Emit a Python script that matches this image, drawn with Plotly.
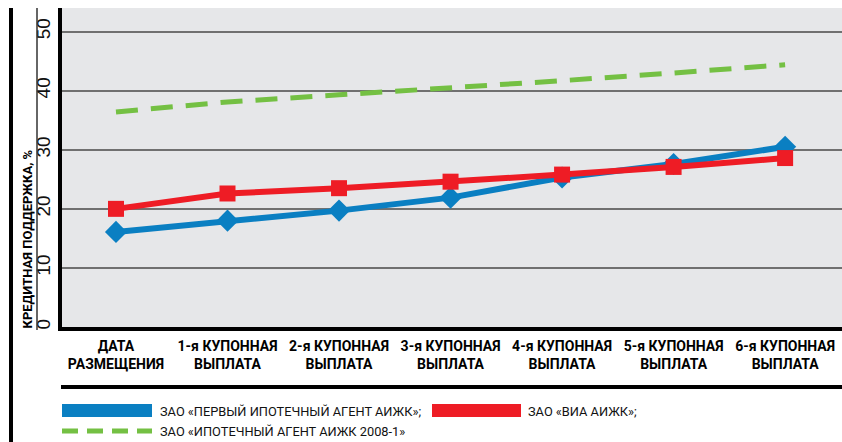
import plotly.graph_objects as go

categories = ["ДАТА<br>РАЗМЕЩЕНИЯ", "1-я КУПОННАЯ<br>ВЫПЛАТА", "2-я КУПОННАЯ<br>ВЫПЛАТА",
              "3-я КУПОННАЯ<br>ВЫПЛАТА", "4-я КУПОННАЯ<br>ВЫПЛАТА", "5-я КУПОННАЯ<br>ВЫПЛАТА",
              "6-я КУПОННАЯ<br>ВЫПЛАТА"]
x_pos = [0, 1, 2, 3, 4, 5, 6]

name_blue = "ЗАО «ПЕРВЫЙ ИПОТЕЧНЫЙ АГЕНТ АИЖК»;"
name_red = "ЗАО «ВИА АИЖК»;"
name_green = "ЗАО «ИПОТЕЧНЫЙ АГЕНТ АИЖК 2008-1»"

blue_vals = [16.1, 18.0, 19.7, 21.9, 25.3, 27.6, 30.5]
red_vals = [20.0, 22.6, 23.5, 24.6, 25.8, 27.1, 28.6]
green_vals = [36.4, 38.1, 39.3, 40.4, 41.7, 43.0, 44.4]

y_ticks = [0, 10, 20, 30, 40, 50]

BLUE = "#0a7fc2"
RED = "#ee1c25"
GREEN = "#74c043"
FONT = "Roboto, DejaVu Sans Condensed, sans-serif"

W, H = 842, 442
ML, MR, MT, MB = 62, 0, 8, 115
PW, PH = W - ML - MR, H - MT - MB


def px_x(px):
    return (px - ML) / PW


def px_y(py):
    return (H - MB - py) / PH


fig = go.Figure()
fig.add_trace(go.Scatter(x=x_pos, y=green_vals, mode="lines", name=name_green,
                         line=dict(color=GREEN, width=5, dash="22px,13px")))
fig.add_trace(go.Scatter(x=x_pos, y=blue_vals, mode="lines+markers", name=name_blue,
                         line=dict(color=BLUE, width=6),
                         marker=dict(symbol="diamond", size=17, color=BLUE)))
fig.add_trace(go.Scatter(x=x_pos, y=red_vals, mode="lines+markers", name=name_red,
                         line=dict(color=RED, width=6),
                         marker=dict(symbol="square", size=16, color=RED)))

shapes = [
    # left thick border
    dict(type="line", xref="paper", yref="paper", x0=px_x(11), x1=px_x(11),
         y0=px_y(8), y1=px_y(H + 2), line=dict(color="black", width=4)),
    # thin separator beside title
    dict(type="line", xref="paper", yref="paper", x0=px_x(37), x1=px_x(37),
         y0=px_y(8), y1=px_y(330), line=dict(color="#333", width=1.5)),
    # horizontal line under x labels
    dict(type="line", xref="paper", yref="paper", x0=px_x(61), x1=px_x(W),
         y0=px_y(387), y1=px_y(387), line=dict(color="black", width=4)),
    # legend swatches
    dict(type="rect", xref="paper", yref="paper", x0=px_x(62), x1=px_x(152),
         y0=px_y(404), y1=px_y(417), fillcolor=BLUE, line=dict(width=0)),
    dict(type="rect", xref="paper", yref="paper", x0=px_x(432), x1=px_x(521),
         y0=px_y(404), y1=px_y(417), fillcolor=RED, line=dict(width=0)),
    dict(type="line", xref="paper", yref="paper", x0=px_x(62), x1=px_x(152),
         y0=px_y(431), y1=px_y(431),
         line=dict(color=GREEN, width=5, dash="16px,9px")),
]

annotations = [
    dict(text="КРЕДИТНАЯ ПОДДЕРЖКА, %", textangle=-90, xref="paper", yref="paper",
         x=px_x(27), y=px_y(331), xanchor="center", yanchor="bottom", showarrow=False,
         font=dict(family=FONT, size=13, color="black", weight="bold")),
    dict(text=name_blue, xref="paper", yref="paper", x=px_x(158), y=px_y(411),
         xanchor="left", yanchor="middle", showarrow=False,
         font=dict(family=FONT, size=12.8, color="#111")),
    dict(text=name_red, xref="paper", yref="paper", x=px_x(526), y=px_y(411),
         xanchor="left", yanchor="middle", showarrow=False,
         font=dict(family=FONT, size=12.8, color="#111")),
    dict(text=name_green, xref="paper", yref="paper", x=px_x(158), y=px_y(431),
         xanchor="left", yanchor="middle", showarrow=False,
         font=dict(family=FONT, size=12.8, color="#111")),
]

fig.update_layout(
    width=W, height=H,
    margin=dict(l=ML, r=MR, t=MT, b=MB, pad=0),
    paper_bgcolor="white", plot_bgcolor="#e6e7e9",
    showlegend=False,
    shapes=shapes, annotations=annotations,
    xaxis=dict(range=[-0.484, 6.51], tickmode="array", tickvals=x_pos, ticktext=categories,
               showgrid=False, zeroline=False, showline=True, linecolor="black", linewidth=4,
               ticks="", ticklabelstandoff=3,
               tickfont=dict(family=FONT, size=14, color="black", weight="bold")),
    yaxis=dict(range=[0, 54.0], tickmode="array", tickvals=y_ticks,
               ticktext=[str(v) for v in y_ticks], tickangle=-90,
               showgrid=True, gridcolor="#707070", gridwidth=1.5,
               zeroline=False, showline=True, linecolor="black", linewidth=4,
               ticks="", ticklabelstandoff=0,
               tickfont=dict(family="Liberation Sans, Arial, sans-serif", size=19, color="#111")),
)

fig.write_html("out.html", config={"displayModeBar": False},
               post_script="document.body.style.margin='0';")
